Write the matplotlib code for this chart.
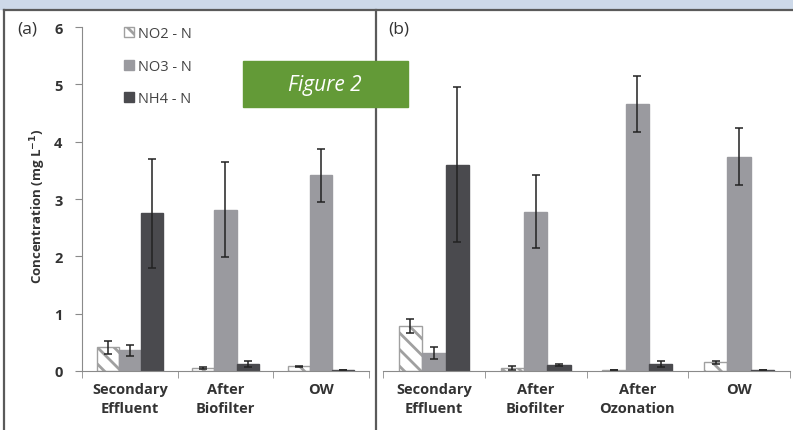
import matplotlib
matplotlib.use("Agg")
import matplotlib.pyplot as plt
import numpy as np
from matplotlib.patches import Rectangle
from matplotlib.lines import Line2D

plt.rcParams['font.family'] = ['Open Sans', 'DejaVu Sans']
plt.rcParams['hatch.linewidth'] = 2.0
plt.rcParams['hatch.color'] = '#a0a0a0'

# panel (a)
cats_a = ['Secondary\nEffluent', 'After\nBiofilter', 'OW']
no2_a = [0.41, 0.05, 0.08]
no2_a_err = [0.12, 0.02, 0.01]
no3_a = [0.36, 2.81, 3.41]
no3_a_err = [0.10, 0.83, 0.46]
nh4_a = [2.75, 0.12, 0.02]
nh4_a_err = [0.95, 0.05, 0.0]

# panel (b)
cats_b = ['Secondary\nEffluent', 'After\nBiofilter', 'After\nOzonation', 'OW']
no2_b = [0.79, 0.05, 0.01, 0.15]
no2_b_err = [0.12, 0.03, 0.0, 0.02]
no3_b = [0.31, 2.78, 4.65, 3.74]
no3_b_err = [0.10, 0.63, 0.49, 0.49]
nh4_b = [3.60, 0.10, 0.12, 0.02]
nh4_b_err = [1.35, 0.02, 0.05, 0.0]

series = ['NO2 - N', 'NO3 - N', 'NH4 - N']

W, H = 793, 431
fig = plt.figure(figsize=(W / 100, H / 100), dpi=100)

def box(x0, x1, ytop, ybot):
    return [x0 / W, 1 - ybot / H, (x1 - x0) / W, (ybot - ytop) / H]

# top strip + frame
fig.patches.append(Rectangle((0, 1 - 10 / H), 1, 10 / H, transform=fig.transFigure,
                             color='#cdd9e9', zorder=0))
fig.add_artist(Line2D([4 / W, 1], [1 - 11 / H] * 2, color='#5a5a5a', lw=1.6))
fig.add_artist(Line2D([4 / W, 4 / W], [0, 1 - 11 / H], color='#5a5a5a', lw=1.6))
fig.add_artist(Line2D([376 / W, 376 / W], [0, 1 - 11 / H], color='#5a5a5a', lw=1.6))

ax1 = fig.add_axes(box(82, 369, 28, 372))
ax2 = fig.add_axes(box(383, 790, 28, 372))

bw = 0.23
cols = ['white', '#9a9a9f', '#4a4a4e']

def draw(ax, cats, vals, errs, show_y):
    x = np.arange(len(cats))
    for i, (v, e) in enumerate(zip(vals, errs)):
        kw = dict(color=cols[i], edgecolor='#a0a0a0' if i == 0 else cols[i], lw=1.0)
        if i == 0:
            kw['hatch'] = '\\\\'
        ax.bar(x + (i - 1) * bw, v, bw, yerr=e, capsize=3,
               error_kw=dict(ecolor='#222222', elinewidth=1.1, capthick=1.1),
               label=series[i], zorder=2, **kw)
    ax.set_xlim(-0.5, len(cats) - 0.5)
    ax.set_ylim(0, 6)
    for s in ['top', 'right']:
        ax.spines[s].set_visible(False)
    ax.spines['bottom'].set_color('#8a8a8a')
    ax.spines['left'].set_color('#8a8a8a')
    ax.set_xticks(x)
    ax.set_xticklabels(cats, fontsize=10.5, fontweight='bold', color='#333333',
                       linespacing=1.45)
    ax.tick_params(axis='x', length=0, pad=8)
    ax.set_xticks(np.arange(len(cats) + 1) - 0.5, minor=True)
    ax.tick_params(axis='x', which='minor', length=5, color='#8a8a8a')
    if show_y:
        ax.set_yticks(range(7))
        ax.set_yticklabels([str(t) for t in range(7)], fontsize=10.5,
                           fontweight='bold', color='#333333')
        ax.tick_params(axis='y', length=5, pad=9, color='#8a8a8a')
    else:
        ax.spines['left'].set_visible(False)
        ax.set_yticks([])

draw(ax1, cats_a, [no2_a, no3_a, nh4_a], [no2_a_err, no3_a_err, nh4_a_err], True)
draw(ax2, cats_b, [no2_b, no3_b, nh4_b], [no2_b_err, no3_b_err, nh4_b_err], False)

ax1.set_ylabel('Concentration (mg L$^{\\mathbf{-1}}$)', fontsize=9.5, fontweight='bold',
               color='#333333')
ax1.yaxis.set_label_coords(-0.12, 0.48)

leg = ax1.legend(loc='upper left', bbox_to_anchor=(0.1, 1.04), frameon=False,
                 handlelength=0.7, handleheight=0.7, handletextpad=0.3,
                 labelspacing=1.2, fontsize=10.5)
for t in leg.get_texts():
    t.set_color('#444444')

fig.text(17 / W, 1 - 30 / H, '(a)', fontsize=12.5, color='#333333', va='center')
fig.text(388 / W, 1 - 30 / H, '(b)', fontsize=12.5, color='#333333', va='center')

# green label box
fig.patches.append(Rectangle((243 / W, 1 - 108 / H), 165 / W, 46 / H,
                             transform=fig.transFigure, color='#639a37', zorder=5))
fig.text(325 / W, 1 - 85 / H, 'Figure 2', fontsize=15, color='white',
         ha='center', va='center', style='italic', zorder=6)

fig.savefig('out.png', dpi=100)
